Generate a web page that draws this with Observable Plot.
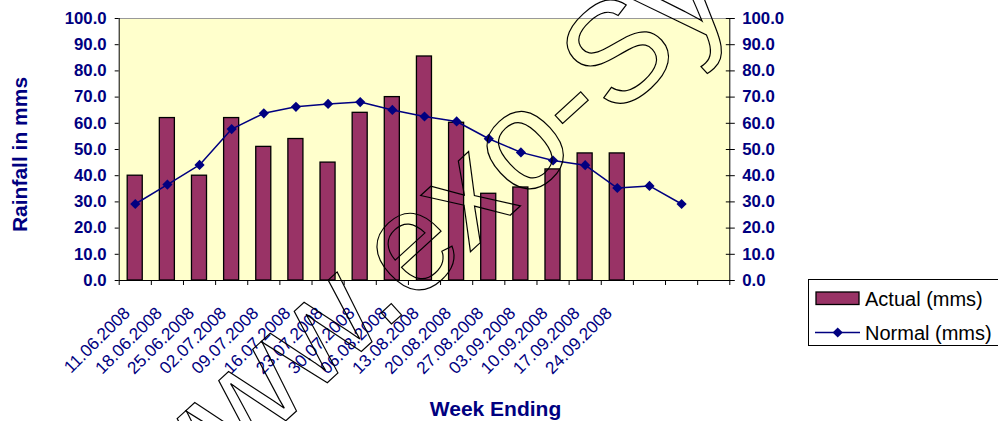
<!DOCTYPE html>
<html>
<head>
<meta charset="utf-8">
<script src="https://cdn.jsdelivr.net/npm/d3@7"></script>
<script src="https://cdn.jsdelivr.net/npm/@observablehq/plot@0.6"></script>
<style>
  html, body { margin: 0; padding: 0; background: #ffffff; overflow: hidden; }
  #wrap { position: relative; width: 998px; height: 421px; overflow: hidden; font-family: "Liberation Sans", Arial, sans-serif; }
  #legend { position: absolute; left: 808px; top: 279px; width: 200px; height: 67px; border: 1px solid #000; box-sizing: border-box; background: #fff; }
  #legend svg { position: absolute; left: 0; top: 0; }
</style>
</head>
<body>
<div id="wrap"></div>
<script>
// Week-ending labels (x categories)
const weeks = ["11.06.2008","18.06.2008","25.06.2008","02.07.2008","09.07.2008","16.07.2008","23.07.2008","30.07.2008","06.08.2008","13.08.2008","20.08.2008","27.08.2008","03.09.2008","10.09.2008","17.09.2008","24.09.2008"];
const slotCount = 19;
// Actual rainfall (mms)
const actual = [40, 62, 40, 62, 51, 54, 45, 64, 70, 85.5, 60.2, 33.1, 35.5, 42.4, 48.5, 48.5];
// Normal rainfall (mms)
const normal = [29.2, 36.6, 44.1, 57.8, 63.8, 66.3, 67.4, 68.1, 65.1, 62.6, 60.7, 54.1, 48.9, 45.8, 44.0, 35.3, 36.1, 29.2];
const yTicks = [0,10,20,30,40,50,60,70,80,90,100];
const slotEdges = d3.range(slotCount + 1);

const navy = "#000080";
const barFill = "#993366";
const font = "Liberation Sans, Arial, sans-serif";

const chart = Plot.plot({
  width: 998,
  height: 421,
  marginLeft: 118.7,
  marginRight: 268.7,
  marginTop: 18,
  marginBottom: 141,
  style: {fontFamily: font, background: "transparent"},
  x: {type: "linear", domain: [0, slotCount]},
  y: {domain: [0, 100]},
  marks: [
    Plot.frame({fill: "#FFFFCC", stroke: null}),
    Plot.ruleY([100], {stroke: "#999999", strokeWidth: 1}),
    Plot.rectY(actual, {x1: (d, i) => i, x2: (d, i) => i + 1, y: d => d, insetLeft: 8.5, insetRight: 8.6, fill: barFill, stroke: "#000", strokeWidth: 1.3}),
    Plot.line(normal, {x: (d, i) => i + 0.5, y: d => d, stroke: navy, strokeWidth: 1.5}),
    Plot.dot(normal, {x: (d, i) => i + 0.5, y: d => d, symbol: "diamond2", r: 4.6, fill: navy, stroke: null}),
    Plot.ruleX([0, slotCount], {stroke: "#000", strokeWidth: 1}),
    Plot.ruleY([0], {stroke: "#000", strokeWidth: 1}),
    // bottom ticks at category boundaries
    Plot.axisX({ticks: slotEdges, tickSize: 5, tickFormat: () => "", label: null, stroke: "#000"}),
    // left axis
    Plot.axisY({anchor: "left", ticks: yTicks, tickSize: 4, tickPadding: 8.5, tickFormat: d3.format(".1f"), label: null,
      fontSize: 16.8, fontWeight: "bold", fill: navy, stroke: "#000"}),
    // right axis: crossing ticks
    Plot.axisY({anchor: "right", ticks: yTicks, tickSize: 9, dx: -4.5, tickFormat: () => "", label: null, stroke: "#000"}),
    Plot.axisY({anchor: "right", ticks: yTicks, tickSize: 0, tickPadding: 12.4, tickFormat: d3.format(".1f"), label: null,
      fontSize: 16.8, fontWeight: "bold", fill: navy}),
    // x tick labels
    Plot.text(weeks, {x: (d, i) => i + 0.5, y: () => 0, text: d => d, rotate: -45, textAnchor: "end", lineAnchor: "top",
      dx: -13, dy: 25, fontSize: 17.2, fill: navy}),
    // axis titles
    Plot.text(["Rainfall in mms"], {frameAnchor: "left", text: d => d, rotate: -90, textAnchor: "middle", lineAnchor: "middle",
      dx: -99, dy: 5, fontSize: 21, fontWeight: "bold", fill: navy}),
    Plot.text(["Week Ending"], {frameAnchor: "bottom", text: d => d, dx: 71, dy: 135, fontSize: 21, fontWeight: "bold", fill: navy})
  ]
});

const wrap = document.getElementById("wrap");
wrap.appendChild(chart);

// watermark overlay
d3.select(chart).append("text")
  .attr("transform", "translate(160.9,535.3) rotate(-42.5)")
  .attr("text-anchor", "start")
  .attr("font-family", font)
  .attr("font-size", 142)
  .attr("fill", "none")
  .attr("stroke", "#000")
  .attr("stroke-width", 1.2)
  .text("www.exo-Systems");

// legend
const legend = document.createElement("div");
legend.id = "legend";
wrap.appendChild(legend);
const ls = d3.select(legend).append("svg").attr("width", 200).attr("height", 67);
ls.append("rect").attr("x", 7).attr("y", 12).attr("width", 43).attr("height", 12.5)
  .attr("fill", barFill).attr("stroke", "#000").attr("stroke-width", 1.3);
ls.append("text").attr("x", 56).attr("y", 25.5).attr("font-family", font).attr("font-size", 20).attr("fill", "#000").text("Actual (mms)");
ls.append("line").attr("x1", 6).attr("x2", 51).attr("y1", 52.5).attr("y2", 52.5).attr("stroke", navy).attr("stroke-width", 1.5);
ls.append("path").attr("d", d3.symbol(d3.symbolDiamond2, Math.PI * 4.6 * 4.6)()).attr("transform", "translate(28.7,52.5)").attr("fill", navy);
ls.append("text").attr("x", 56).attr("y", 59.5).attr("font-family", font).attr("font-size", 20).attr("fill", "#000").text("Normal (mms)");
</script>
</body>
</html>
